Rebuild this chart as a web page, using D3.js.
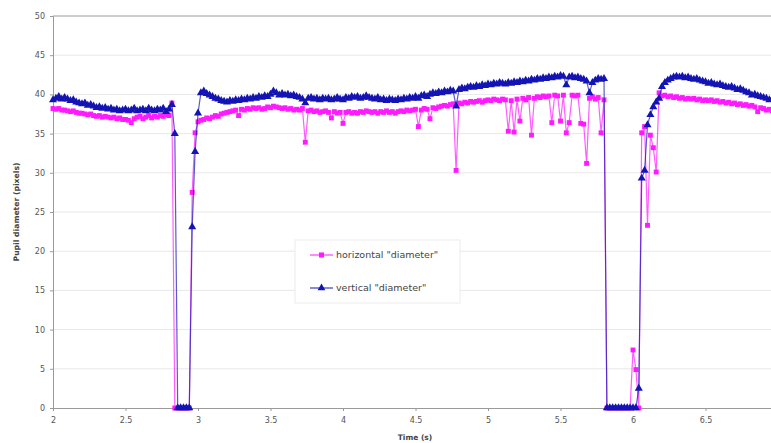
<!DOCTYPE html>
<html>
<head>
<meta charset="utf-8">
<style>
  body { margin: 0; background: #fff; }
  svg text { font-family: "DejaVu Sans", Verdana, sans-serif; }
  .grid line { stroke: #e8e8e8; }
  .axis path, .axis line { stroke: #9a9a9a; }
  .axis text { fill: #555; font-size: 8px; }
</style>
</head>
<body>
<svg width="771" height="443"></svg>
<script src="https://d3js.org/d3.v7.min.js"></script>
<script>
// eye camera samples, 50 Hz, starting at 2.0 s
var startTime = 2.0,
    sampleStep = 0.02;

var horizontal = [
  38.2, 38.1, 38.2, 38.0, 38.0, 37.9, 37.8, 37.9, 37.7, 37.6,
  37.6, 37.5, 37.4, 37.5, 37.3, 37.2, 37.3, 37.1, 37.2, 37.1,
  37.0, 37.1, 36.9, 37.0, 36.8, 36.8, 36.7, 36.4, 36.9, 37.1,
  37.2, 36.9, 37.1, 37.3, 37.0, 37.2, 37.1, 37.3, 37.2, 37.4,
  37.3, 38.9, 0, 0, 0, 0, 0, 0, 27.5, 35.1,
  36.5, 36.7, 36.8, 37.0, 36.9, 37.1, 37.3, 37.2, 37.5, 37.6,
  37.7, 37.8, 37.9, 38.0, 37.3, 38.1, 38.0, 38.2, 38.1, 38.3,
  38.2, 38.3, 38.1, 38.2, 38.4, 38.3, 38.5, 38.4, 38.3, 38.2,
  38.3, 38.1, 38.2, 38.0, 38.1, 38.0, 38.2, 33.9, 37.9, 38.0,
  37.8, 37.9, 37.7, 37.8, 37.9, 37.7, 37.0, 37.8, 37.6, 37.7,
  36.3, 37.7, 37.8, 37.6, 37.7, 37.6, 37.8, 37.7, 37.9, 37.8,
  37.7, 37.8, 37.6, 37.8, 37.7, 37.9, 37.7, 37.8, 37.6, 37.8,
  37.9, 37.8, 38.0, 37.9, 38.0, 38.1, 35.9, 38.0, 38.2, 38.1,
  36.9, 38.3, 38.2, 38.4, 38.5, 38.6, 38.5, 38.7, 38.8, 30.3,
  38.9, 38.8, 39.0, 38.9, 39.1, 39.0, 39.1, 39.2, 39.0, 39.2,
  39.3, 39.2, 39.4, 39.3, 39.2, 39.4, 39.3, 35.3, 39.2, 35.2,
  39.4, 36.6, 39.5, 39.3, 39.6, 34.8, 39.5, 39.7, 39.6, 39.8,
  39.7, 39.8, 36.4, 39.9, 39.8, 36.6, 39.9, 35.1, 36.4, 39.9,
  39.8, 39.9, 36.3, 36.2, 31.2, 39.5, 39.7, 39.4, 39.6, 35.1,
  39.3, 0, 0, 0, 0, 0, 0, 0, 0, 0,
  7.4, 4.9, 0, 35.1, 35.9, 23.3, 34.8, 33.2, 30.1, 40.2,
  39.8, 39.9, 39.7, 39.8, 39.6, 39.7, 39.5, 39.6, 39.4, 39.5,
  39.4, 39.5, 39.3, 39.4, 39.2, 39.3, 39.2, 39.3, 39.1, 39.2,
  39.0, 39.1, 38.9, 39.0, 38.8, 38.9, 38.7, 38.8, 38.6, 38.7,
  38.5, 38.6, 38.4, 37.8, 38.3, 38.2, 38.0, 38.1, 37.9
];

var vertical = [
  39.3, 39.5, 39.7, 39.4, 39.6, 39.4, 39.2, 39.3, 39.0, 38.9,
  38.8, 38.9, 38.6, 38.7, 38.5, 38.3, 38.4, 38.2, 38.3, 38.1,
  38.2, 38.0, 38.1, 37.9, 38.0, 38.1, 37.9, 38.0, 38.2, 37.9,
  38.0, 38.1, 37.9, 38.2, 38.0, 37.9, 38.1, 38.0, 38.2, 37.8,
  38.1, 38.7, 35.0, 0, 0, 0, 0, 0, 23.1, 32.7,
  37.6, 40.2, 40.4, 40.1, 39.9, 39.7, 39.5, 39.4, 39.2, 39.1,
  39.0, 39.2, 39.1, 39.3, 39.2, 39.4, 39.3, 39.5, 39.4, 39.6,
  39.5, 39.7, 39.6, 39.8, 39.7, 40.0, 40.4, 40.2, 39.9, 40.1,
  39.9, 40.0, 39.8, 39.9, 39.7, 39.6, 39.4, 38.9, 39.5, 39.6,
  39.4, 39.5, 39.3, 39.5, 39.4, 39.5, 39.3, 39.4, 39.6, 39.4,
  39.3, 39.6, 39.5, 39.7, 39.6, 39.7, 39.5, 39.6, 39.8, 39.6,
  39.5, 39.4, 39.6, 39.3, 39.4, 39.2, 39.4, 39.3, 39.2, 39.4,
  39.3, 39.5, 39.4, 39.6, 39.5, 39.7, 39.5, 39.8, 39.9, 39.7,
  40.0, 40.2, 40.1, 40.3, 40.2, 40.4, 40.3, 40.5, 40.4, 38.5,
  40.6, 40.8, 40.7, 40.9, 41.0, 40.9, 41.1, 41.0, 41.2, 41.1,
  41.3, 41.2, 41.4, 41.3, 41.5, 41.4, 41.3, 41.5, 41.4, 41.6,
  41.5, 41.7, 41.6, 41.8, 41.7, 41.9, 41.8, 42.0, 41.9, 42.1,
  42.0, 42.2, 42.1, 42.3, 42.2, 42.4, 42.3, 41.2, 42.2, 42.3,
  42.1, 42.2, 42.0, 41.9, 41.7, 40.2, 41.5, 41.8, 42.0, 41.9,
  42.0, 0, 0, 0, 0, 0, 0, 0, 0, 0,
  0, 0, 2.5, 29.3, 30.3, 36.1, 37.4, 38.4, 39.0, 39.5,
  41.0, 41.5, 41.8, 42.0, 42.2, 42.3, 42.2, 42.3, 42.1, 42.2,
  42.0, 41.9, 42.0, 41.8, 41.7, 41.6, 41.4, 41.5, 41.3, 41.2,
  41.3, 41.1, 41.0, 40.9, 41.0, 40.8, 40.6, 40.7, 40.5, 40.3,
  40.2, 39.9, 40.0, 39.8, 39.7, 39.6, 39.5, 39.3, 39.4
];

var seriesNames = ['horizontal "diameter"', 'vertical "diameter"'];
var seriesColors = ["#ff1aff", "#1414b4"];
var xTicks = [2, 2.5, 3, 3.5, 4, 4.5, 5, 5.5, 6, 6.5];
var yTicks = [0, 5, 10, 15, 20, 25, 30, 35, 40, 45, 50];

var svg = d3.select("svg");
var plotLeft = 53, plotTop = 16, plotRight = 778, plotBottom = 408;

var x = d3.scaleLinear().domain([2, 7]).range([plotLeft, plotRight]);
var y = d3.scaleLinear().domain([0, 50]).range([plotBottom, plotTop]);

function toPoints(values) {
  return values.map(function(v, i) { return [startTime + i * sampleStep, v]; });
}

// horizontal gridlines
svg.append("g").attr("class", "grid")
  .selectAll("line")
  .data(yTicks.filter(function(d) { return d > 0; }))
  .enter().append("line")
    .attr("x1", plotLeft).attr("x2", plotRight)
    .attr("y1", function(d) { return y(d); })
    .attr("y2", function(d) { return y(d); });

// plot border top
svg.append("line")
  .attr("x1", plotLeft).attr("x2", plotRight)
  .attr("y1", plotTop).attr("y2", plotTop)
  .attr("stroke", "#a8a8a8");

svg.append("g").attr("class", "axis")
  .attr("transform", "translate(" + plotLeft + ",0)")
  .call(d3.axisLeft(y).tickValues(yTicks).tickSize(3).tickPadding(5).tickFormat(d3.format("d")));

svg.append("g").attr("class", "axis")
  .attr("transform", "translate(0," + plotBottom + ")")
  .call(d3.axisBottom(x).tickValues(xTicks).tickSize(3).tickPadding(6).tickFormat(function(d) { return String(d); }));

svg.append("defs").append("clipPath").attr("id", "plot")
  .append("rect").attr("x", plotLeft - 4).attr("y", plotTop - 4)
  .attr("width", plotRight - plotLeft + 8).attr("height", plotBottom - plotTop + 8);

var line = d3.line().x(function(d) { return x(d[0]); }).y(function(d) { return y(d[1]); });
var plot = svg.append("g").attr("clip-path", "url(#plot)");

var data = [toPoints(horizontal), toPoints(vertical)];
var shapes = [d3.symbolSquare, d3.symbolTriangle];
var sizes = [24, 28];

data.forEach(function(pts, k) {
  plot.append("path")
    .datum(pts)
    .attr("fill", "none")
    .attr("stroke", seriesColors[k])
    .attr("stroke-opacity", 0.7)
    .attr("stroke-width", 1.2)
    .attr("d", line);
  plot.selectAll(".m" + k)
    .data(pts)
    .enter().append("path")
      .attr("class", "m" + k)
      .attr("transform", function(d) { return "translate(" + x(d[0]) + "," + y(d[1]) + ")"; })
      .attr("d", d3.symbol().type(shapes[k]).size(sizes[k]))
      .attr("fill", seriesColors[k]);
});

// legend
var lg = svg.append("g").attr("transform", "translate(295,240)");
lg.append("rect").attr("width", 165).attr("height", 63)
  .attr("fill", "#fff").attr("stroke", "#ececec");
seriesNames.forEach(function(name, k) {
  var ly = k === 0 ? 15 : 48;
  lg.append("line").attr("x1", 15).attr("x2", 38).attr("y1", ly).attr("y2", ly)
    .attr("stroke", seriesColors[k]).attr("stroke-width", 1);
  lg.append("path").attr("transform", "translate(26.5," + ly + ")")
    .attr("d", d3.symbol().type(shapes[k]).size(26))
    .attr("fill", seriesColors[k]);
  lg.append("text").attr("x", 41).attr("y", ly + 3)
    .attr("font-size", 9.5).attr("fill", "#444").text(name);
});

// axis titles
svg.append("text")
  .attr("transform", "translate(19," + ((plotTop + plotBottom) / 2) + ") rotate(-90)")
  .attr("text-anchor", "middle")
  .attr("font-size", 7.7).attr("font-weight", "bold").attr("fill", "#444")
  .text("Pupil diameter (pixels)");

svg.append("text")
  .attr("x", 415).attr("y", 440)
  .attr("text-anchor", "middle")
  .attr("font-size", 7.5).attr("font-weight", "bold").attr("fill", "#444")
  .text("Time (s)");
</script>
</body>
</html>
